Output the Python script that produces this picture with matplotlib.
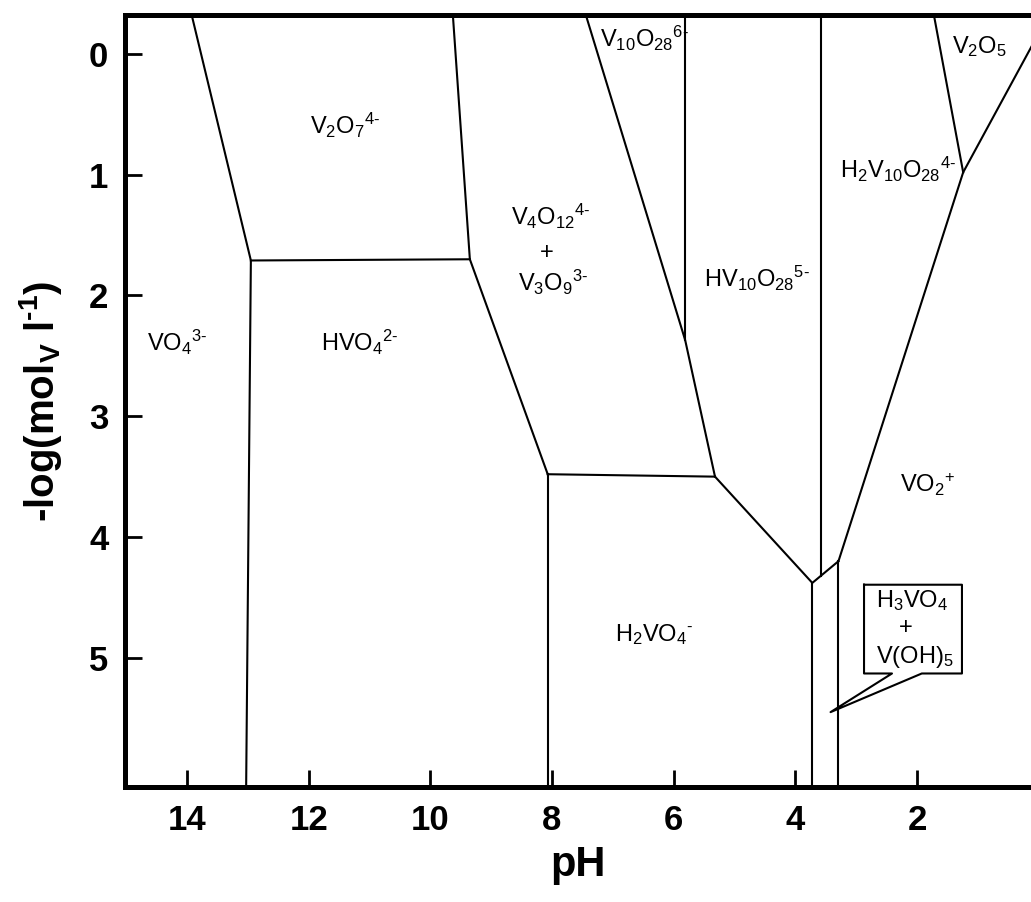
#!/usr/bin/env python3
import matplotlib
matplotlib.use("Agg")
import matplotlib.pyplot as plt

# vanadium species predominance diagram (pH vs -log c_V)
# each boundary is one polyline: pH values and -log(c) values
b_vo4_left_ph = [13.96, 12.95, 13.03]
b_vo4_left_c = [-0.4, 1.71, 6.2]
b_v2o7_hvo4_ph = [12.95, 9.35]
b_v2o7_hvo4_c = [1.71, 1.70]
b_v2o7_v4o12_ph = [9.64, 9.35, 8.07]
b_v2o7_v4o12_c = [-0.4, 1.70, 3.48]
b_hvo4_h2vo4_ph = [8.07, 8.07]
b_hvo4_h2vo4_c = [3.48, 6.2]
b_v4o12_h2vo4_ph = [8.07, 5.32]
b_v4o12_h2vo4_c = [3.48, 3.50]
b_v10_left_ph = [7.49, 5.81, 5.32]
b_v10_left_c = [-0.4, 2.37, 3.50]
b_v10_6_5_ph = [5.81, 5.81]
b_v10_6_5_c = [-0.4, 2.37]
b_h2vo4_low_ph = [5.32, 3.72, 3.29]
b_h2vo4_low_c = [3.50, 4.38, 4.20]
b_h3vo4_left_ph = [3.72, 3.72]
b_h3vo4_left_c = [4.38, 6.2]
b_h3vo4_right_ph = [3.29, 3.29]
b_h3vo4_right_c = [4.20, 6.2]
b_hv10_h2v10_ph = [3.58, 3.58]
b_hv10_h2v10_c = [-0.4, 4.32]
b_vo2_ph = [3.29, 1.24, 0.0]
b_vo2_c = [4.20, 0.98, -0.17]
b_v2o5_ph = [1.75, 1.24]
b_v2o5_c = [-0.4, 0.98]

boundaries = [
    (b_vo4_left_ph, b_vo4_left_c),
    (b_v2o7_hvo4_ph, b_v2o7_hvo4_c),
    (b_v2o7_v4o12_ph, b_v2o7_v4o12_c),
    (b_hvo4_h2vo4_ph, b_hvo4_h2vo4_c),
    (b_v4o12_h2vo4_ph, b_v4o12_h2vo4_c),
    (b_v10_left_ph, b_v10_left_c),
    (b_v10_6_5_ph, b_v10_6_5_c),
    (b_h2vo4_low_ph, b_h2vo4_low_c),
    (b_h3vo4_left_ph, b_h3vo4_left_c),
    (b_h3vo4_right_ph, b_h3vo4_right_c),
    (b_hv10_h2v10_ph, b_hv10_h2v10_c),
    (b_vo2_ph, b_vo2_c),
    (b_v2o5_ph, b_v2o5_c),
]

# species labels: text, left-edge pH, baseline -log(c)
species = [
    r"$VO_4{}^{3\text{-}}$",
    r"$V_2O_7{}^{4\text{-}}$",
    r"$HVO_4{}^{2\text{-}}$",
    r"$V_4O_{12}{}^{4\text{-}}$",
    r"$V_3O_9{}^{3\text{-}}$",
    r"$V_{10}O_{28}{}^{6\text{-}}$",
    r"$HV_{10}O_{28}{}^{5\text{-}}$",
    r"$H_2V_{10}O_{28}{}^{4\text{-}}$",
    r"$V_2O_5$",
    r"$VO_2{}^{+}$",
    r"$H_2VO_4{}^{\text{-}}$",
]
species_ph = [14.66, 11.98, 11.79, 8.67, 8.56, 7.21, 5.50, 3.27, 1.43, 2.28, 6.96]
species_c = [2.46, 0.66, 2.46, 1.42, 1.96, -0.06, 1.93, 1.03, -0.01, 3.63, 4.86]

# callout box for H3VO4 + V(OH)5
callout_ph = [2.87, 1.26, 1.26, 1.92, 3.42, 2.41, 2.87, 2.87]
callout_c = [4.395, 4.395, 5.13, 5.13, 5.45, 5.13, 5.13, 4.395]

x_ticks = [14, 12, 10, 8, 6, 4, 2]
y_ticks = [0, 1, 2, 3, 4, 5]

plt.rcParams["font.family"] = ["Liberation Sans", "DejaVu Sans"]
plt.rcParams["mathtext.fontset"] = "custom"
plt.rcParams["mathtext.rm"] = "Liberation Sans"
plt.rcParams["mathtext.it"] = "Liberation Sans"
plt.rcParams["mathtext.bf"] = "Liberation Sans:bold"
plt.rcParams["mathtext.default"] = "rm"

fig = plt.figure(figsize=(10.31, 9.02), dpi=100)
ax = fig.add_axes([0.1212, 0.1275, 0.8788, 0.8559])

for ph, c in boundaries:
    ax.plot(ph, c, color="black", lw=1.5, solid_joinstyle="miter")

for txt, ph, c in zip(species, species_ph, species_c):
    ax.text(ph, c, txt, fontsize=17, ha="left", va="baseline")
ax.text(8.09, 1.65, "+", fontsize=17, ha="center", va="center")

ax.plot(callout_ph, callout_c, color="black", lw=1.5)
ax.text(2.67, 4.58, r"$H_3VO_4$", fontsize=17, ha="left", va="baseline")
ax.text(2.18, 4.75, "+", fontsize=17, ha="center", va="center")
ax.text(2.67, 5.04, r"$V(OH)_5$", fontsize=17, ha="left", va="baseline")

ax.set_xlim(15.02, 0.125)
ax.set_ylim(6.07, -0.323)
ax.set_xticks(x_ticks)
ax.set_yticks(y_ticks)

for side in ["left", "bottom", "top"]:
    ax.spines[side].set_linewidth(3.6)
ax.spines["right"].set_visible(False)

ax.tick_params(direction="in", length=12, width=2, pad=12, labelsize=25)
for lab in ax.get_xticklabels() + ax.get_yticklabels():
    lab.set_fontweight("bold")

ax.set_xlabel("pH", fontsize=30, fontweight="bold", labelpad=6)
ax.set_ylabel("-log(mol$_{\\mathbf{V}}$ l$^{\\mathbf{\u20101}}$)", fontsize=29,
              fontweight="bold", labelpad=18)

fig.savefig("out.png", dpi=100)
